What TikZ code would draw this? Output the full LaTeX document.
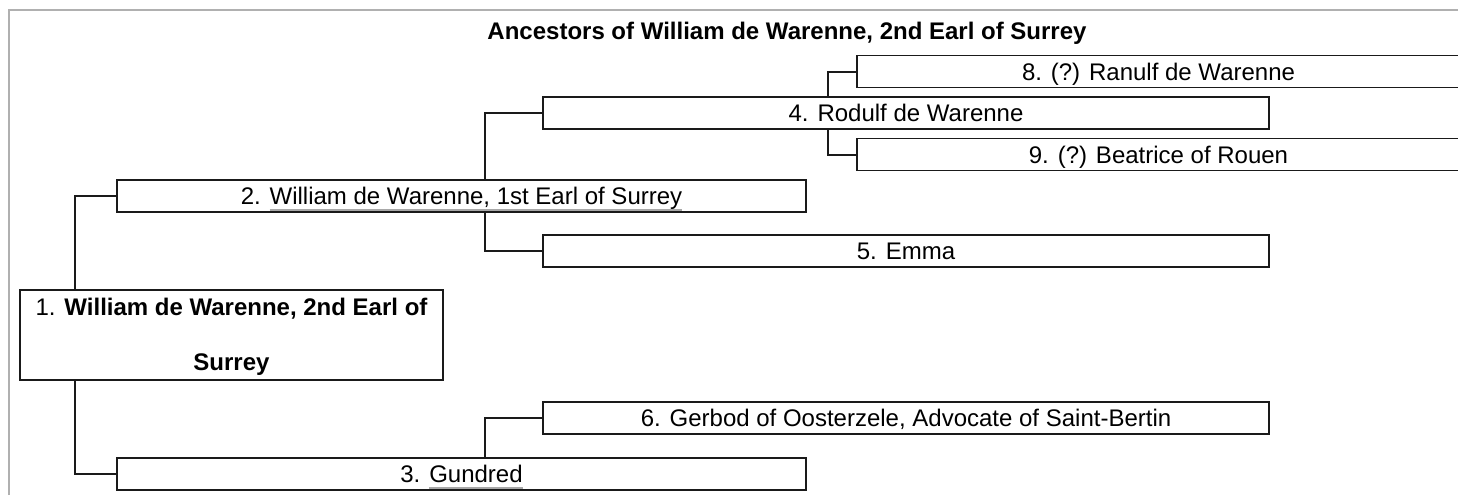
\documentclass[tikz,border=0pt]{standalone}
\usepackage{fontspec}
\setmainfont{Liberation Sans}
\definecolor{linkgray}{HTML}{A8A8A8}
\definecolor{framegray}{HTML}{B0B0B0}
\definecolor{boxline}{HTML}{1A1A1A}
\newcommand{\lnk}[1]{\begingroup\setbox0\hbox{#1}\rlap{\color{linkgray}\rule[-6pt]{\wd0}{1.2pt}}\box0\endgroup}
\begin{document}
\begin{tikzpicture}[x=1pt,y=-1pt,
  every node/.style={font=\fontsize{24}{27.6}\selectfont},
  boxbase/.style={draw=boxline, line width=1.7pt, inner sep=0pt, outer sep=0pt},
  person/.style={boxbase, text height=19pt, text depth=1.8pt, minimum height=32pt},
  link/.style={draw=boxline, line width=2pt},
  frame/.style={draw=framegray, line width=1.5pt}]
\useasboundingbox (0,0) rectangle (1458,495);
\clip (0,0) rectangle (1458,495);
\draw[frame] (9,495) -- (9,10) -- (1458,10);
\node[anchor=base] (title) at (787,40) {\textbf{Ancestors of William de Warenne, 2nd Earl of Surrey}};
\node[boxbase, minimum width=423pt, minimum height=90pt, align=center] (p1) at (231.5,335) {};
\node[align=center, inner sep=0pt] (p1text) at (231.5,336.5)
  {1. \textbf{William de Warenne, 2nd Earl of}\\[27.4pt]\textbf{Surrey}};
\node[person, minimum width=689pt] (p2) at (461.5,196) {2. \lnk{William de Warenne, 1st Earl of Surrey}};
\node[person, minimum width=689pt] (p3) at (461.5,474) {3. \lnk{Gundred}};
\node[person, minimum width=726pt] (p4) at (906,113) {4. Rodulf de Warenne};
\node[person, minimum width=726pt] (p5) at (906,251) {5. Emma};
\node[person, minimum width=726pt] (p6) at (906,418) {6. Gerbod of Oosterzele, Advocate of Saint-Bertin};
\node[person, minimum width=603pt] (p8) at (1158.5,71.5) {8. (?) Ranulf de Warenne};
\node[person, minimum width=603pt] (p9) at (1158.5,154.5) {9. (?) Beatrice of Rouen};
\draw[link] ([xshift=55pt]p1.north west) |- (p2.west);
\draw[link] ([xshift=55pt]p1.south west) |- (p3.west);
\draw[link] ([xshift=368pt]p2.north west) |- (p4.west);
\draw[link] ([xshift=368pt]p2.south west) |- (p5.west);
\draw[link] ([xshift=368pt]p3.north west) |- (p6.west);
\draw[link] ([xshift=285pt]p4.north west) |- (p8.west);
\draw[link] ([xshift=285pt]p4.south west) |- (p9.west);
\end{tikzpicture}
\end{document}
